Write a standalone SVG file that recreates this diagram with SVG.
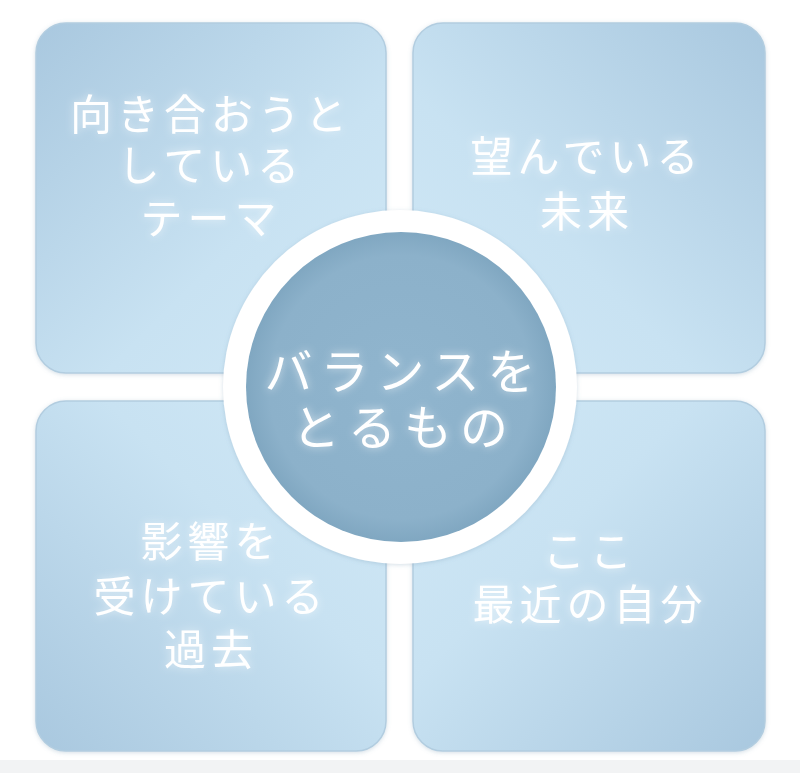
<svg xmlns="http://www.w3.org/2000/svg" width="800" height="773" viewBox="0 0 800 773">
<defs>
<style>
.lbl{font-family:"Noto Sans CJK JP","Noto Sans",sans-serif;font-size:42px;fill:#ffffff;text-anchor:middle;letter-spacing:5px;filter:url(#glow);font-weight:400}
.ctr{font-size:48px;letter-spacing:8px}
.sq{stroke:#b2cde0;stroke-width:1.5}
</style>
<filter id="glow" x="-20%" y="-50%" width="140%" height="200%">
<feGaussianBlur in="SourceAlpha" stdDeviation="4" result="b"/>
<feFlood flood-color="#ffffff" flood-opacity="0.6"/>
<feComposite in2="b" operator="in" result="g"/>
<feMerge><feMergeNode in="g"/><feMergeNode in="SourceGraphic"/></feMerge>
</filter>
<filter id="shadow" x="-10%" y="-10%" width="120%" height="120%">
<feGaussianBlur in="SourceAlpha" stdDeviation="2"/>
<feOffset dx="0" dy="1" result="o"/>
<feFlood flood-color="#6f93ad" flood-opacity="0.3"/>
<feComposite in2="o" operator="in"/>
<feMerge><feMergeNode/><feMergeNode in="SourceGraphic"/></feMerge>
</filter>
<linearGradient id="gTL" x1="0" y1="0" x2="1" y2="1"><stop offset="0" stop-color="#a9c8df"/><stop offset="0.6" stop-color="#c8e2f2"/><stop offset="1" stop-color="#d0e8f6"/></linearGradient>
<linearGradient id="gTR" x1="1" y1="0" x2="0" y2="1"><stop offset="0" stop-color="#a9c8df"/><stop offset="0.6" stop-color="#c8e2f2"/><stop offset="1" stop-color="#d0e8f6"/></linearGradient>
<linearGradient id="gBL" x1="0" y1="1" x2="1" y2="0"><stop offset="0" stop-color="#a9c8df"/><stop offset="0.6" stop-color="#c8e2f2"/><stop offset="1" stop-color="#d0e8f6"/></linearGradient>
<linearGradient id="gBR" x1="1" y1="1" x2="0" y2="0"><stop offset="0" stop-color="#a9c8df"/><stop offset="0.6" stop-color="#c8e2f2"/><stop offset="1" stop-color="#d0e8f6"/></linearGradient>
<radialGradient id="gC" cx="0.5" cy="0.5" r="0.5"><stop offset="0" stop-color="#90b5ce"/><stop offset="0.85" stop-color="#8cb1ca"/><stop offset="1" stop-color="#80a7c1"/></radialGradient>
</defs>
<rect width="800" height="773" fill="#ffffff"/>
<rect x="0" y="760" width="800" height="13" fill="#f2f3f4"/>
<g id="node-theme">
<rect class="sq" x="36" y="23" width="350" height="350" rx="30" fill="url(#gTL)" filter="url(#shadow)"/>
<text class="lbl" x="211" y="130">向き合おうと</text>
<text class="lbl" x="211" y="181">している</text>
<text class="lbl" x="211" y="234">テーマ</text>
</g>
<g id="node-future">
<rect class="sq" x="413" y="23" width="352" height="350" rx="30" fill="url(#gTR)" filter="url(#shadow)"/>
<text class="lbl" x="587" y="172">望んでいる</text>
<text class="lbl" x="587" y="227">未来</text>
</g>
<g id="node-past">
<rect class="sq" x="36" y="401" width="350" height="350" rx="30" fill="url(#gBL)" filter="url(#shadow)"/>
<text class="lbl" x="211" y="557">影響を</text>
<text class="lbl" x="211" y="612">受けている</text>
<text class="lbl" x="211" y="665">過去</text>
</g>
<g id="node-recent">
<rect class="sq" x="413" y="401" width="352" height="350" rx="30" fill="url(#gBR)" filter="url(#shadow)"/>
<text class="lbl" x="590" y="567">ここ</text>
<text class="lbl" x="590" y="620">最近の自分</text>
</g>
<g id="connectors"></g>
<g id="node-center">
<circle cx="400" cy="387" r="177" fill="#ffffff" filter="url(#shadow)"/>
<circle cx="401" cy="387" r="155" fill="url(#gC)"/>
<text class="lbl ctr" x="404" y="389">バランスを</text>
<text class="lbl ctr" x="404" y="445">とるもの</text>
</g>
</svg>
